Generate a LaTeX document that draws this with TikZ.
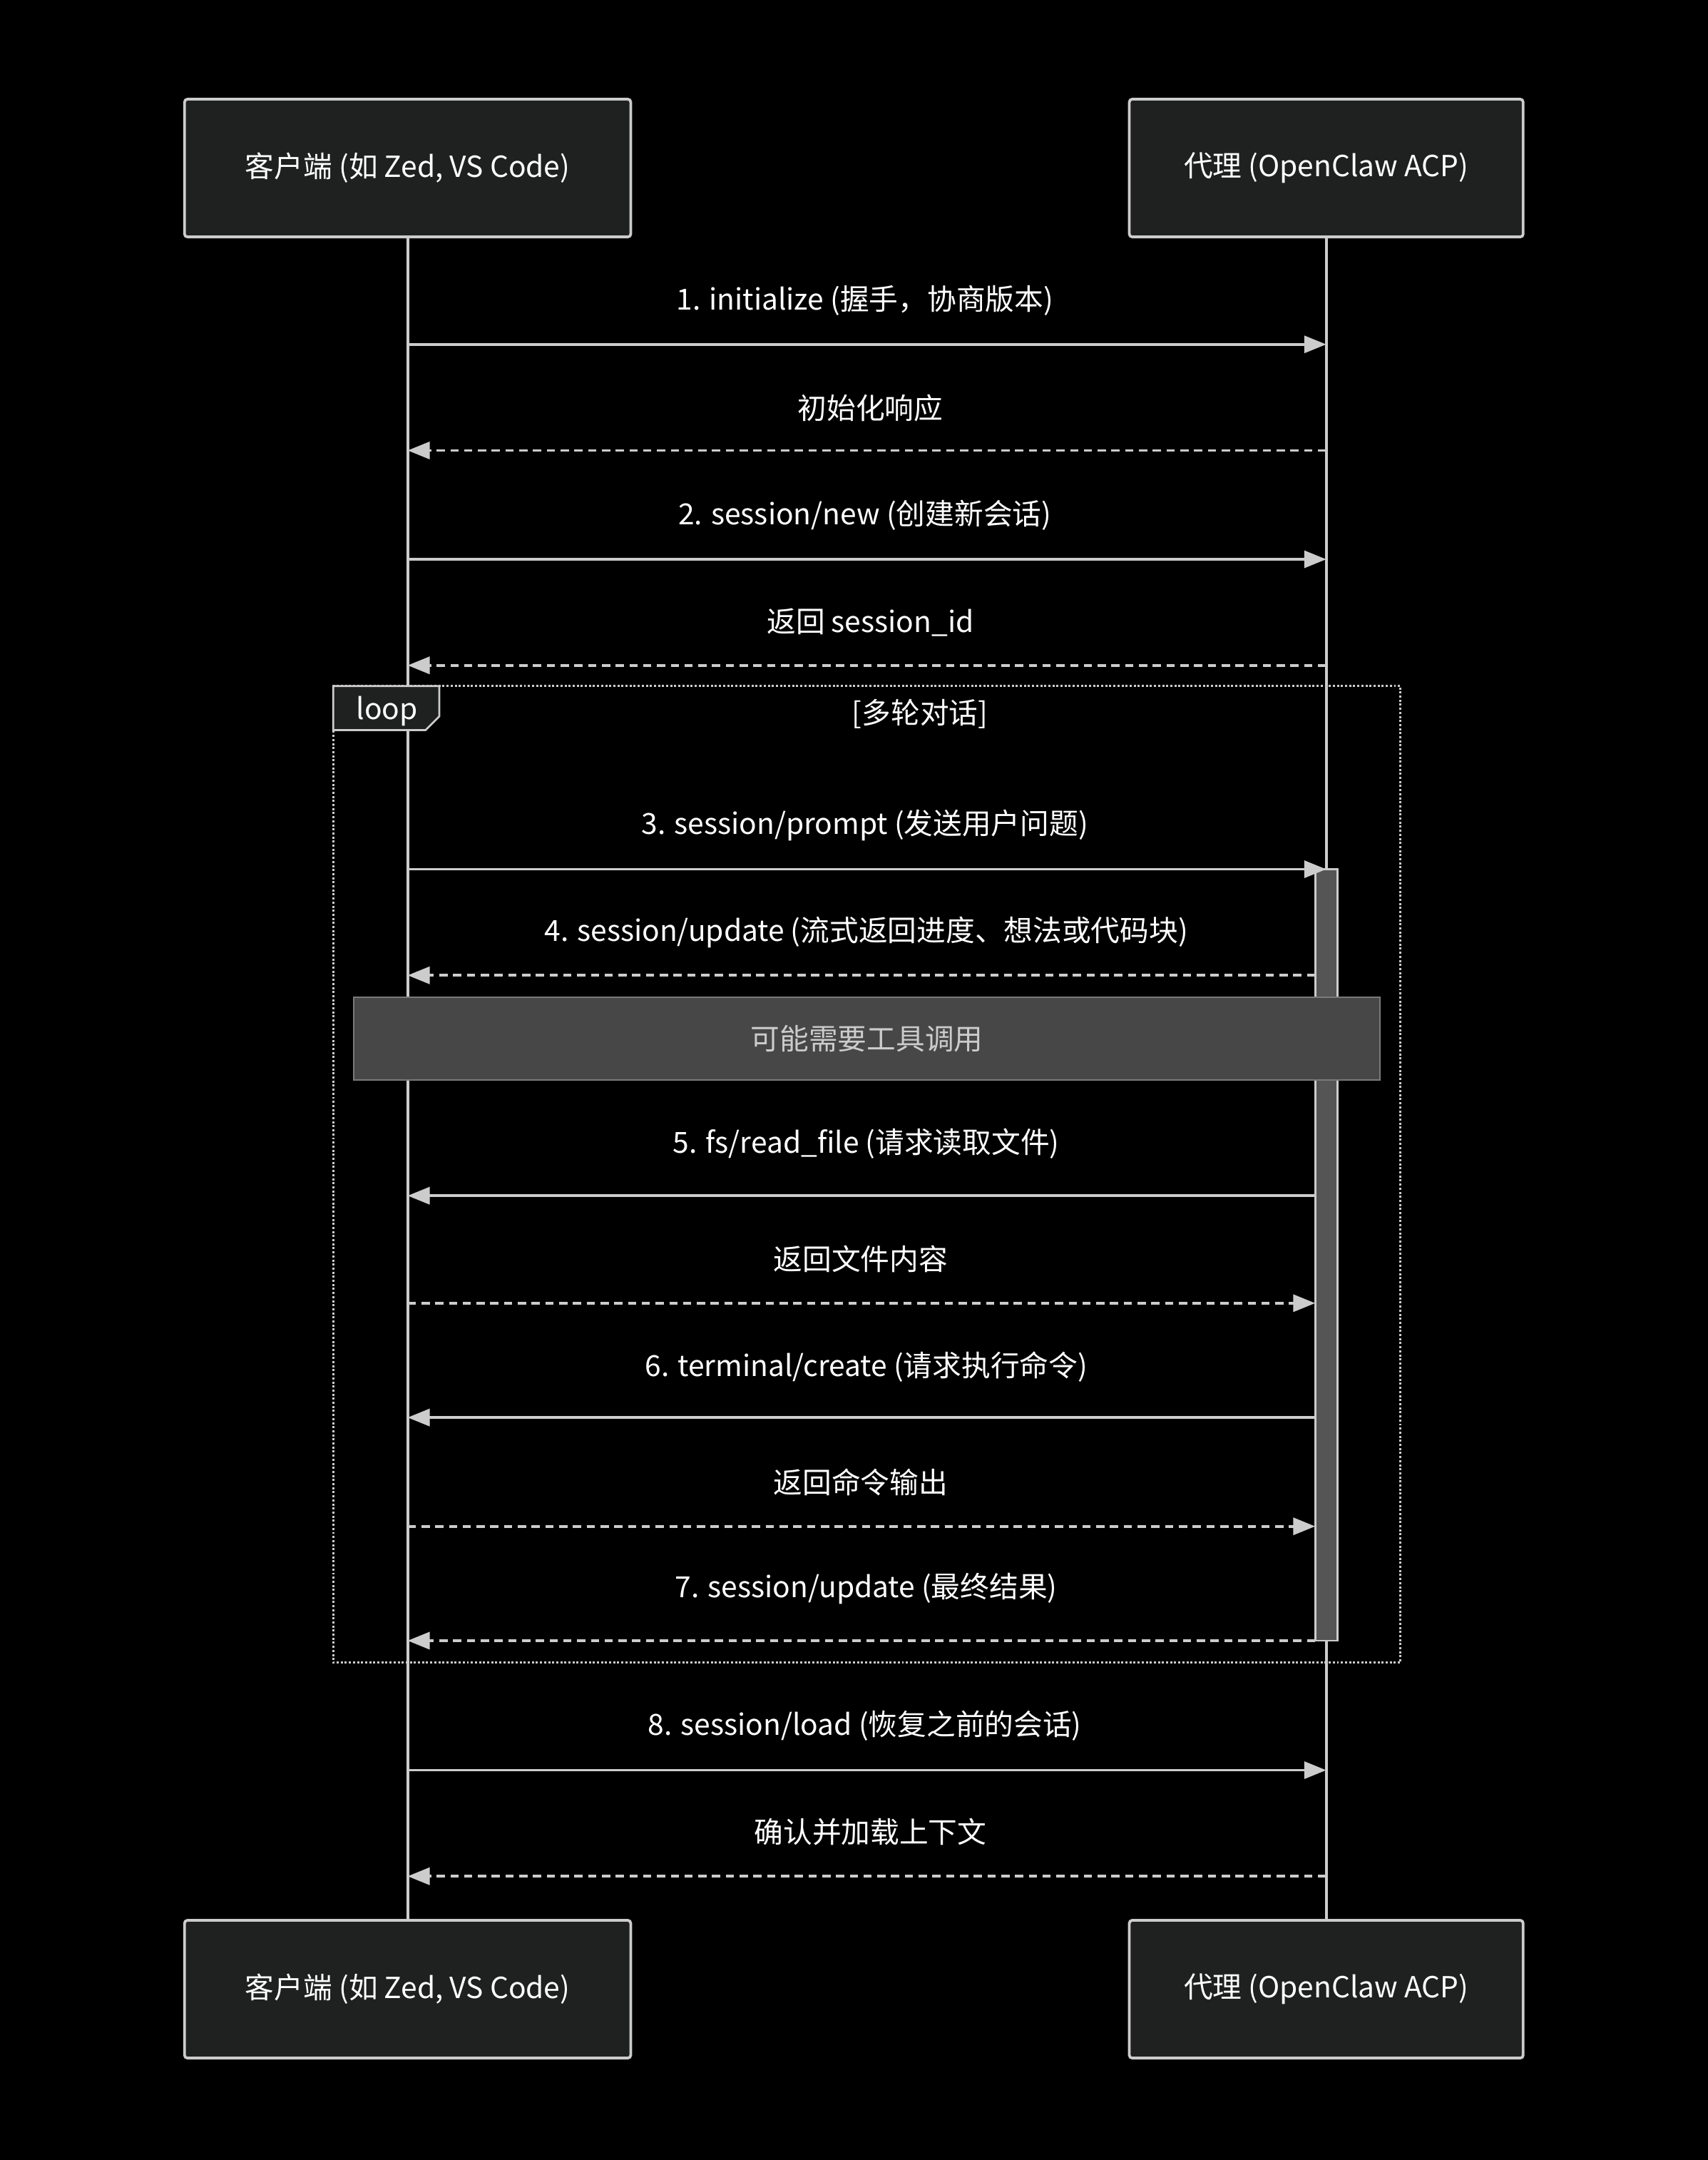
\documentclass[tikz,border=0pt]{standalone}
\usepackage{fontspec}
\setmainfont{Noto Sans CJK SC}
\usetikzlibrary{arrows.meta}
\definecolor{ln}{HTML}{CCCCCC}
\definecolor{bx}{HTML}{1F2020}
\definecolor{nt}{HTML}{474747}
\definecolor{act}{HTML}{555555}
\begin{document}
\begin{tikzpicture}[x=0.05cm,y=-0.05cm,
  actor/.style={draw=ln,fill=bx,line width=2.8pt,rounded corners=3pt,minimum height=5cm,text=white,font=\fontsize{30}{36}\selectfont},
  lbl/.style={text=white,font=\fontsize{30}{36}\selectfont},
  msg/.style={draw=ln,line width=2.8pt,-{Triangle[length=0.8cm,width=0.62cm]}},
  rep/.style={msg,dash pattern=on 0.3cm off 0.2cm},
  life/.style={draw=ln,line width=2.8pt}]
\fill[black] (0,0) rectangle (1240,1568);
\useasboundingbox (0,0) rectangle (1240,1568);
% actors
\node[actor,minimum width=16.2cm] (c1) at (296,122) {客户端 (如 Zed, VS Code)};
\node[actor,minimum width=14.3cm] (a1) at (963,122) {代理 (OpenClaw ACP)};
\node[actor,minimum width=16.2cm] (c2) at (296,1444) {客户端 (如 Zed, VS Code)};
\node[actor,minimum width=14.3cm] (a2) at (963,1444) {代理 (OpenClaw ACP)};
\draw[life] (c1.south) -- (c2.north);
\draw[life] (a1.south) -- (a2.north);
% loop
\draw[ln,line width=2.2pt,dotted] (242,498) rectangle (1017,1207);
\node[draw=ln,line width=2pt,fill=bx,minimum width=0pt,minimum height=0pt,inner sep=0pt] (looptab) at (242,498) {};
\fill[bx] (242,498) -- (319,498) -- (319,520) -- (309,530) -- (242,530) -- cycle;
\draw[ln,line width=2pt] (242,498) -- (319,498) -- (319,520) -- (309,530) -- (242,530) -- cycle;
\node[lbl] (looplbl) at (281,516) {loop};
\node[lbl] (loopcond) at (668,518) {[多轮对话]};
% activation
\node[draw=ln,fill=act,line width=2pt,minimum width=0.8cm,minimum height=28cm,inner sep=0pt] (actv) at (963,911) {};
% coordinates
\foreach \n/\y in {m1/250,m2/327,m3/406,m4/483,m12/1285,m13/1362}{
  \coordinate (C\n) at (296,\y); \coordinate (A\n) at (963,\y);}
\foreach \n/\y in {m5/631}{
  \coordinate (C\n) at (296,\y); \coordinate (A\n) at (963,\y);}
\foreach \n/\y in {m6/708,m7/868,m8/946,m9/1029,m10/1108,m11/1191}{
  \coordinate (C\n) at (296,\y); \coordinate (A\n) at (955,\y);}
\draw[msg] (Cm1) -- (Am1);
\node[lbl] at (628,218) {1. initialize (握手，协商版本)};
\draw[rep] (Am2) -- (Cm2);
\node[lbl] at (632,296) {初始化响应};
\draw[msg] (Cm3) -- (Am3);
\node[lbl] at (628,374) {2. session/new (创建新会话)};
\draw[rep] (Am4) -- (Cm4);
\node[lbl] at (632,452) {返回 session\_id};
\draw[msg] (Cm5) -- (Am5);
\node[lbl] at (628,599) {3. session/prompt (发送用户问题)};
\draw[rep] (Am6) -- (Cm6);
\node[lbl] at (629,677) {4. session/update (流式返回进度、想法或代码块)};
\node[draw=ln!60!black,fill=nt,line width=1.5pt,minimum width=37.25cm,minimum height=3cm,text=ln,font=\fontsize{30}{36}\selectfont] (note) at (629.5,754) {可能需要工具调用};
\draw[msg] (Am7) -- (Cm7);
\node[lbl] at (629,830) {5. fs/read\_file (请求读取文件)};
\draw[rep] (Cm8) -- (Am8);
\node[lbl] at (625,914) {返回文件内容};
\draw[msg] (Am9) -- (Cm9);
\node[lbl] at (629,992) {6. terminal/create (请求执行命令)};
\draw[rep] (Cm10) -- (Am10);
\node[lbl] at (625,1076) {返回命令输出};
\draw[rep] (Am11) -- (Cm11);
\node[lbl] at (629,1153) {7. session/update (最终结果)};
\draw[msg] (Cm12) -- (Am12);
\node[lbl] at (628,1253) {8. session/load (恢复之前的会话)};
\draw[rep] (Am13) -- (Cm13);
\node[lbl] at (632,1330) {确认并加载上下文};
\end{tikzpicture}
\end{document}
